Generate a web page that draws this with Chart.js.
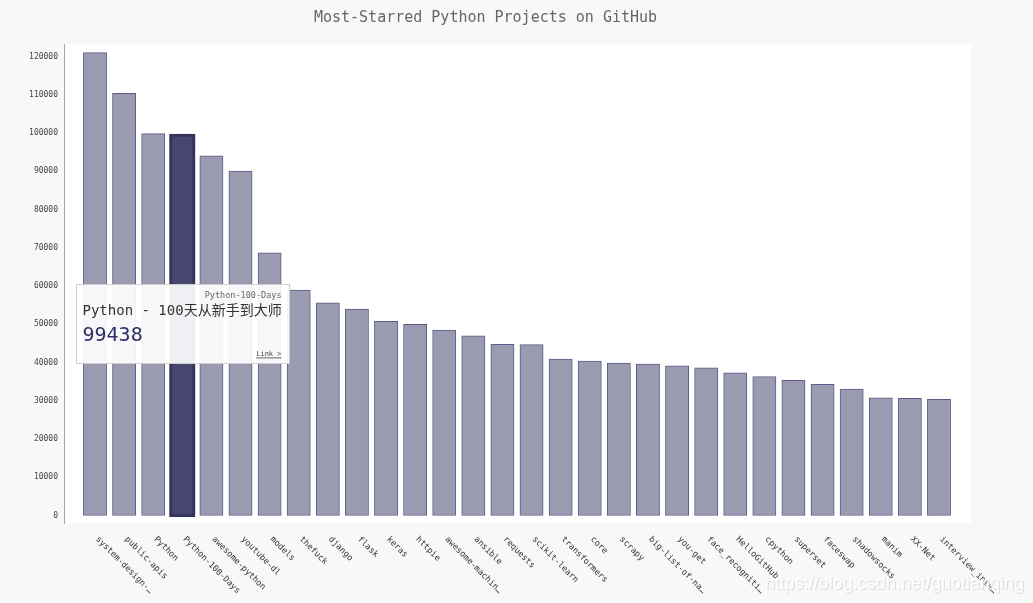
<!DOCTYPE html>
<html><head><meta charset="utf-8">
<script src="https://cdn.jsdelivr.net/npm/chart.js@4"></script>
<style>html,body{margin:0;padding:0;background:#f8f8f8;overflow:hidden}canvas{display:block}</style>
</head><body>
<canvas id="c" width="1033" height="603"></canvas>
<script>
const chartTitle = "Most-Starred Python Projects on GitHub";
const repoNames = ["system-design-…","public-apis","Python","Python-100-Days","awesome-python","youtube-dl","models","thefuck","django","flask","keras","httpie","awesome-machin…","ansible","requests","scikit-learn","transformers","core","scrapy","big-list-of-na…","you-get","face_recogniti…","HelloGitHub","cpython","superset","faceswap","shadowsocks","manim","XX-Net","interview_inte…"];
const stars = [121060,110430,99870,99438,94110,90110,68740,58990,55660,54010,50800,50010,48520,47030,44780,44700,40940,40410,39890,39630,39180,38660,37350,36360,35370,34320,33090,30810,30660,30400];
const yTicks = [0,10000,20000,30000,40000,50000,60000,70000,80000,90000,100000,110000,120000];
const tooltipIndex = 3;
const tooltipRepo = "Python-100-Days";
const tooltipDesc = "Python - 100天从新手到大师";
const tooltipLink = "Link >";
const watermark = "https://blog.csdn.net/guotianqing";

const MONO = "'DejaVu Sans Mono', monospace";

const bgPlugin = {
  id: 'bg',
  beforeDraw(chart) {
    const {ctx, chartArea: a} = chart;
    ctx.save();
    ctx.fillStyle = '#ffffff';
    ctx.fillRect(a.left, a.top, a.right - a.left, a.bottom - a.top);
    ctx.restore();
  }
};

const xLabelPlugin = {
  id: 'xlabels',
  afterDraw(chart) {
    const {ctx, chartArea: a} = chart;
    const xs = chart.scales.x;
    ctx.save();
    ctx.font = "8.5px " + MONO;
    ctx.fillStyle = '#333';
    ctx.textAlign = 'left';
    ctx.textBaseline = 'middle';
    repoNames.forEach((n, i) => {
      const x = xs.getPixelForValue(i);
      ctx.save();
      ctx.translate(x + 2, a.bottom + 15);
      ctx.rotate(Math.PI / 4);
      ctx.fillText(n, 0, 0);
      ctx.restore();
    });
    ctx.restore();
  }
};

const tipPlugin = {
  id: 'tip',
  afterDraw(chart) {
    const {ctx, chartArea: a} = chart;
    const bar = chart.getDatasetMeta(0).data[tooltipIndex];
    const w = 213, h = 79;
    const left = Math.round(bar.x - w / 2) + 0.5;
    const top = a.top + 240.5;
    ctx.save();
    ctx.fillStyle = 'rgba(255,255,255,0.92)';
    ctx.strokeStyle = '#cfcfcf';
    ctx.lineWidth = 1;
    ctx.fillRect(left, top, w, h);
    ctx.strokeRect(left, top, w, h);
    ctx.textBaseline = 'middle';
    ctx.textAlign = 'right';
    ctx.fillStyle = '#666';
    ctx.font = "8.5px " + MONO;
    ctx.fillText(tooltipRepo, left + w - 8, top + 11.5);
    ctx.textAlign = 'left';
    ctx.fillStyle = '#333';
    ctx.font = "14px " + MONO + ", 'Noto Sans CJK SC'";
    ctx.fillText(tooltipDesc, left + 6, top + 27);
    ctx.fillStyle = '#2f2f66';
    ctx.font = "20px " + MONO;
    ctx.fillText(String(stars[tooltipIndex]), left + 6, top + 51);
    ctx.textAlign = 'right';
    ctx.fillStyle = '#444';
    ctx.font = "7px " + MONO;
    const lx = left + w - 8, ly = top + 70;
    ctx.fillText(tooltipLink, lx, ly);
    const lw = ctx.measureText(tooltipLink).width;
    ctx.fillRect(lx - lw, ly + 3, lw, 0.8);
    ctx.restore();
  }
};

const wmPlugin = {
  id: 'wm',
  afterDraw(chart) {
    const {ctx} = chart;
    ctx.save();
    ctx.font = "18px 'Liberation Sans', Arial, sans-serif";
    ctx.textAlign = 'right';
    ctx.textBaseline = 'middle';
    ctx.fillStyle = 'rgba(190,190,190,0.5)';
    ctx.fillText(watermark, 1025, 585);
    ctx.fillStyle = 'rgba(255,255,255,0.9)';
    ctx.fillText(watermark, 1024, 584);
    ctx.restore();
  }
};

new Chart(document.getElementById('c'), {
  type: 'bar',
  data: {
    datasets: [{
      data: stars.map((v, i) => ({x: i, y: v})),
      backgroundColor: ctx => ctx.dataIndex === tooltipIndex ? '#47466f' : '#9a9ab1',
      borderColor: ctx => ctx.dataIndex === tooltipIndex ? '#34345c' : '#5c5c8a',
      borderWidth: ctx => ctx.dataIndex === tooltipIndex ? 3 : 1,
      inflateAmount: ctx => ctx.dataIndex === tooltipIndex ? 1.5 : 0.3,
      borderSkipped: false,
      barPercentage: 0.8,
      categoryPercentage: 1
    }]
  },
  options: {
    responsive: false,
    animation: false,
    events: [],
    layout: {padding: {left: 0, right: 62, top: 0, bottom: 0}},
    plugins: {
      legend: {display: false},
      tooltip: {enabled: false},
      title: {
        display: true,
        text: chartTitle,
        color: '#666',
        font: {family: MONO, size: 15, weight: 'normal'},
        padding: {top: 9, bottom: 17}
      }
    },
    scales: {
      x: {
        type: 'linear',
        offset: false,
        min: -1.065,
        max: 30.1,
        grid: {display: false, offset: false},
        border: {display: false},
        ticks: {display: false},
        afterFit(s) { s.height = 80; }
      },
      y: {
        min: -1962,
        max: 123322,
        grid: {display: false, drawTicks: false},
        border: {display: true, color: '#a8a8a8', width: 1},
        afterBuildTicks(s) { s.ticks = yTicks.map(v => ({value: v})); },
        afterFit(s) { s.width = 64; },
        ticks: {
          padding: 6,
          color: '#444',
          font: {family: MONO, size: 8},
          callback: v => String(v)
        }
      }
    }
  },
  plugins: [bgPlugin, xLabelPlugin, tipPlugin, wmPlugin]
});
</script>
</body></html>
